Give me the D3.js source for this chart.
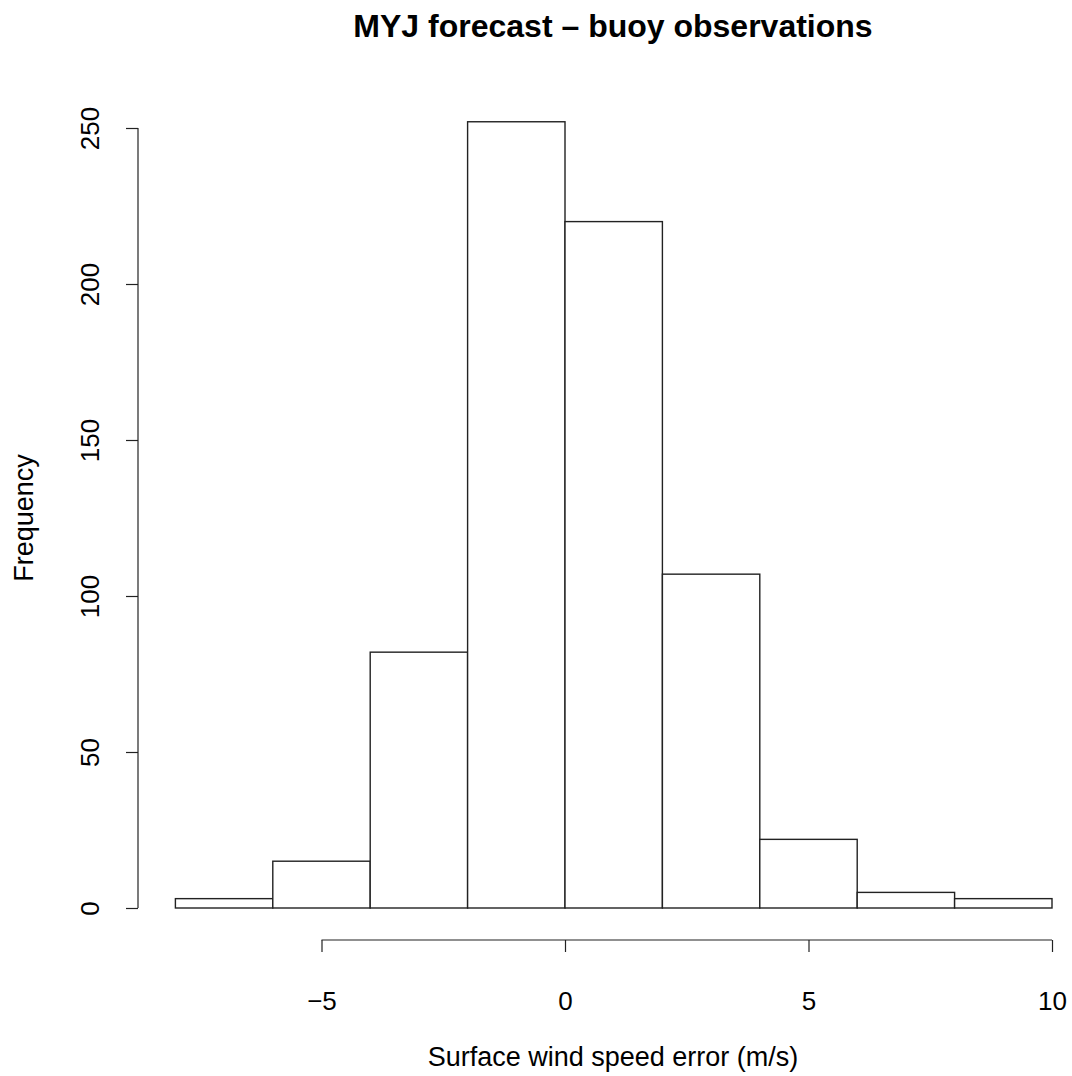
<!DOCTYPE html>
<html><head><meta charset="utf-8">
<script src="https://cdn.jsdelivr.net/npm/d3@7"></script>
<style>body{margin:0;background:#fff;} text{font-family:"Liberation Sans",Arial,sans-serif;fill:#000;}</style>
</head><body><svg id="c" width="1072" height="1076"></svg>
<script>
const binEdges = [-8,-6,-4,-2,0,2,4,6,8,10];
const counts = [3,15,82,252,220,107,22,5,3];
const xTicks = [-5,0,5,10];
const yTicks = [0,50,100,150,200,250];
const title = "MYJ forecast \u2013 buoy observations";
const xLabel = "Surface wind speed error (m/s)";
const yLabel = "Frequency";

const svg = d3.select("#c");
const x = d3.scaleLinear().domain([0,10]).range([565,1052]);
const y = d3.scaleLinear().domain([0,250]).range([908,128]);

const bins = counts.map((c,i)=>({x0:binEdges[i],x1:binEdges[i+1],c}));
svg.append("g").selectAll("rect").data(bins).join("rect")
  .attr("x",d=>x(d.x0)).attr("width",d=>x(d.x1)-x(d.x0))
  .attr("y",d=>y(d.c)).attr("height",d=>y(0)-y(d.c))
  .attr("fill","#fff").attr("stroke","#222").attr("stroke-width",1.4);

const xa = svg.append("g").attr("transform","translate(0,940)")
  .call(d3.axisBottom(x).tickValues(xTicks).tickSize(12).tickSizeOuter(0).tickFormat(d=>d<0?"\u2212"+Math.abs(d):d));
xa.select(".domain").attr("d",`M${x(-5)},0H${x(10)}`).attr("stroke","#222").attr("stroke-width",1.2);
xa.selectAll(".tick line").attr("stroke","#222").attr("stroke-width",1.2);
xa.selectAll(".tick text").attr("font-size",26).attr("dy",0).attr("y",70).attr("fill","#000").style("font-family","Liberation Sans, Arial, sans-serif");

const ya = svg.append("g").attr("transform","translate(138,0)")
  .call(d3.axisLeft(y).tickValues(yTicks).tickSize(12).tickSizeOuter(0));
ya.select(".domain").attr("d",`M0,${y(0)}V${y(250)}`).attr("stroke","#222").attr("stroke-width",1.2);
ya.selectAll(".tick text").attr("font-size",26).attr("x",0).attr("fill","#000")
  .attr("text-anchor","middle").attr("transform","translate(-48,0) rotate(-90)").attr("dy","0.35em")
  .style("font-family","Liberation Sans, Arial, sans-serif");
ya.selectAll(".tick line").attr("stroke","#222").attr("stroke-width",1.2);

svg.append("text").attr("x",613).attr("y",37).attr("text-anchor","middle")
  .attr("font-size",32).attr("font-weight","bold").text(title);
svg.append("text").attr("x",613).attr("y",1066).attr("text-anchor","middle")
  .attr("font-size",27).text(xLabel);
svg.append("text").attr("transform","translate(33,518) rotate(-90)").attr("text-anchor","middle")
  .attr("font-size",27).text(yLabel);
</script></body></html>
